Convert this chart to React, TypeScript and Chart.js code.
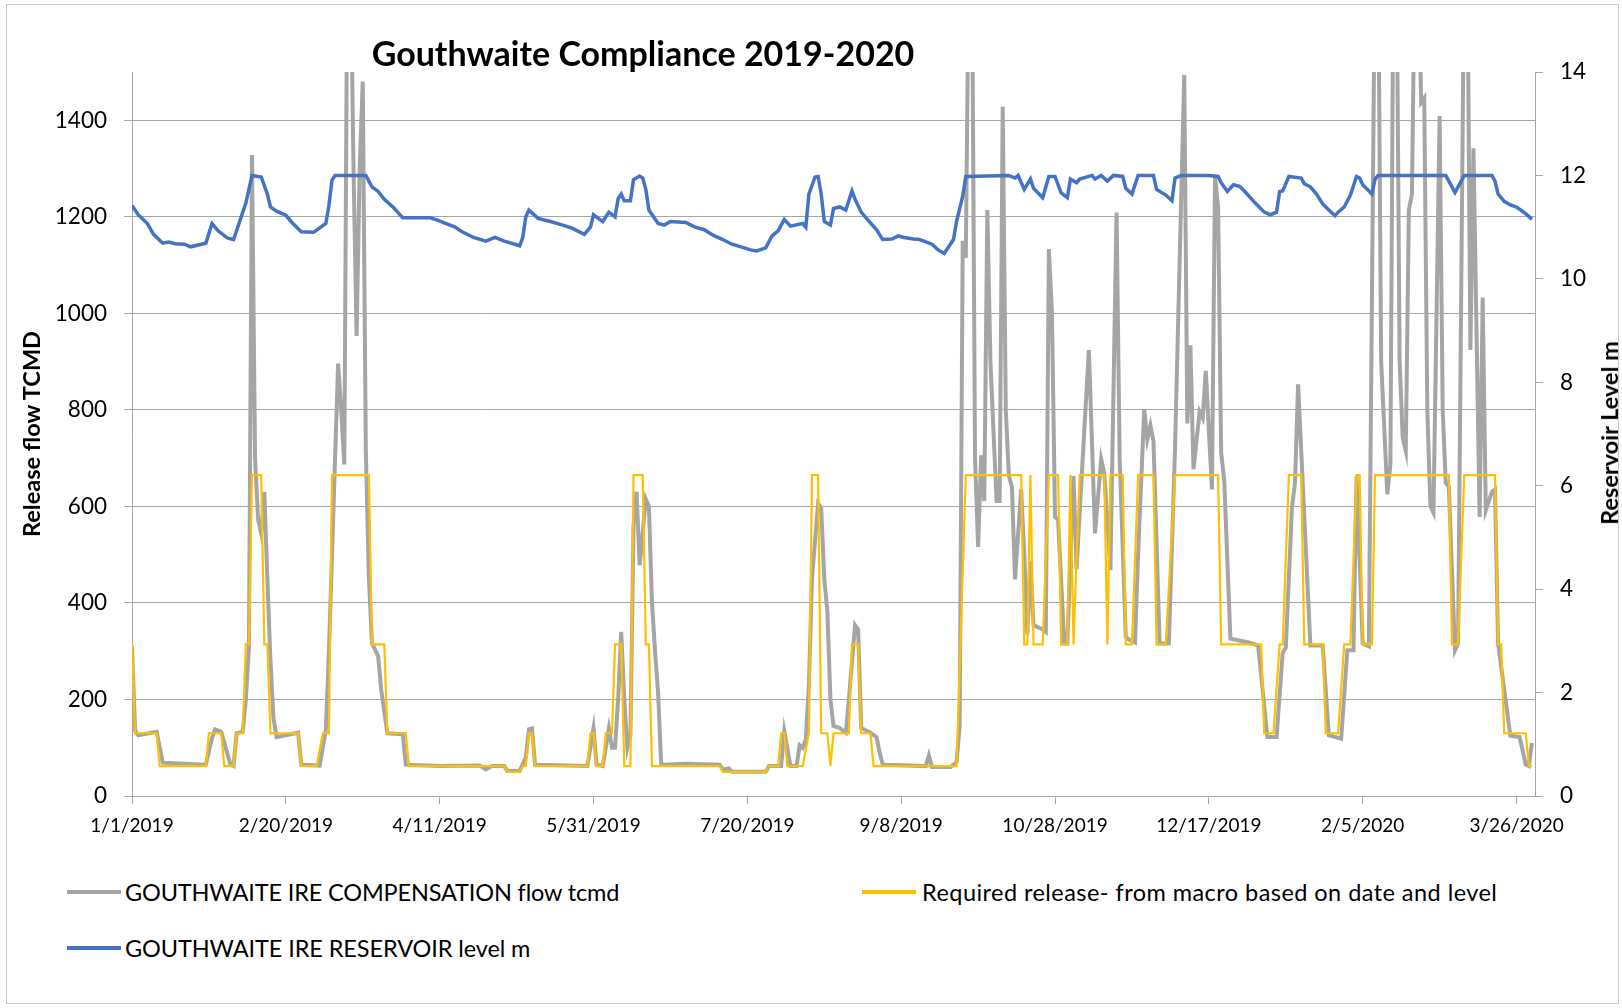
import React, { useEffect, useRef } from "react";
import { Chart, registerables } from "chart.js";

Chart.register(...registerables);

// Day offsets from 1/1/2019 paired with values (daily series, read at vertices)
const flowSeries: [number, number][] = [
  [0, 310], [1, 135], [2, 126], [8, 133], [10, 69], [24, 65], [26, 120], [27, 138], [29, 133], [30, 110],
  [32, 65], [33, 62], [34, 130], [36, 133], [37, 200], [38, 307], [39, 1328], [40, 700], [41, 573], [42, 544],
  [43, 630], [44, 450], [45, 280], [46, 160], [47, 122], [54, 131], [55, 65], [61, 63], [62, 100], [63, 136],
  [64, 300], [66, 700], [67, 896], [68, 800], [69, 687], [70, 1750], [71, 1750], [72, 1300], [73, 953], [74, 1300],
  [75, 1480], [76, 715], [77, 450], [78, 316], [80, 290], [81, 220], [83, 130], [88, 128], [89, 65], [100, 62],
  [113, 63], [115, 55], [117, 62], [121, 62], [122, 52], [126, 52], [128, 80], [129, 138], [130, 140], [131, 65],
  [148, 62], [150, 140], [151, 65], [153, 62], [155, 140], [156, 100], [157, 100], [158, 200], [159, 340], [160, 200],
  [161, 100], [162, 126], [163, 560], [164, 630], [165, 478], [167, 615], [168, 600], [169, 400], [170, 300], [171, 212],
  [172, 65], [180, 67], [191, 65], [192, 55], [194, 57], [195, 50], [206, 50], [207, 62], [211, 62], [212, 134],
  [214, 62], [216, 62], [217, 105], [218, 100], [219, 117], [220, 231], [221, 450], [223, 606], [224, 597], [225, 450],
  [226, 383], [227, 200], [228, 145], [230, 141], [232, 131], [233, 200], [235, 354], [236, 345], [237, 141], [240, 131],
  [242, 122], [243, 90], [244, 65], [258, 62], [259, 84], [260, 60], [266, 60], [268, 70], [269, 145], [270, 1150],
  [271, 1115], [272, 1750], [273, 1750], [274, 700], [275, 516], [276, 706], [277, 611], [278, 1214], [279, 900], [281, 611],
  [282, 611], [283, 1428], [284, 800], [285, 663], [286, 640], [287, 449], [289, 635], [290, 500], [291, 335], [292, 487],
  [293, 354], [296, 345], [297, 340], [298, 1133], [299, 1000], [300, 578], [301, 573], [303, 316], [304, 316], [306, 663],
  [307, 470], [309, 700], [311, 924], [313, 544], [315, 698], [316, 668], [318, 468], [320, 1209], [321, 700], [323, 330],
  [324, 324], [326, 318], [327, 500], [329, 801], [330, 739], [331, 768], [332, 735], [334, 316], [337, 316], [339, 720],
  [342, 1494], [343, 772], [344, 934], [345, 677], [347, 796], [348, 783], [349, 881], [351, 635], [352, 1285], [353, 1219],
  [354, 711], [355, 654], [357, 326], [363, 318], [366, 312], [367, 250], [369, 122], [372, 122], [374, 297], [375, 307],
  [377, 597], [378, 649], [379, 853], [383, 312], [387, 312], [389, 126], [393, 119], [395, 302], [397, 302], [398, 663],
  [400, 316], [402, 310], [404, 1750], [405, 1750], [406, 900], [407, 763], [408, 625], [409, 687], [410, 1750], [411, 1750],
  [412, 900], [413, 743], [414, 715], [415, 1214], [416, 1247], [417, 1750], [418, 1750], [419, 1437], [420, 1446], [421, 800],
  [422, 601], [423, 587], [425, 1409], [426, 800], [427, 649], [428, 640], [430, 302], [431, 316], [433, 1750], [434, 1750],
  [435, 924], [436, 1342], [438, 578], [439, 1033], [440, 592], [442, 630], [443, 635], [444, 316], [446, 220], [448, 125],
  [451, 122], [453, 65], [454, 62], [455, 110],
];

const requiredSeries: [number, number][] = [
  [0, 314], [1, 130], [8, 130], [9, 62], [24, 62], [25, 130], [29, 130], [30, 62], [33, 62], [34, 130],
  [36, 130], [37, 314], [38, 314], [39, 665], [42, 665], [43, 314], [44, 314], [45, 130], [54, 130], [55, 62],
  [60, 62], [62, 130], [64, 130], [65, 665], [77, 665], [78, 314], [82, 314], [83, 130], [89, 130], [90, 62],
  [121, 62], [122, 50], [126, 50], [127, 62], [128, 62], [129, 130], [130, 130], [131, 62], [148, 62], [149, 130],
  [150, 130], [151, 62], [153, 62], [154, 130], [156, 130], [157, 314], [159, 314], [160, 62], [162, 62], [163, 665],
  [166, 665], [167, 314], [168, 314], [169, 62], [191, 62], [192, 50], [206, 50], [207, 62], [210, 62], [211, 130],
  [212, 130], [213, 62], [218, 62], [220, 130], [221, 665], [223, 665], [224, 130], [226, 130], [227, 62], [228, 130],
  [233, 130], [234, 314], [236, 314], [237, 130], [240, 130], [241, 62], [268, 62], [271, 665], [289, 665], [290, 314],
  [291, 314], [292, 665], [293, 314], [296, 314], [298, 665], [301, 665], [302, 314], [304, 314], [305, 665], [306, 314],
  [308, 665], [316, 665], [317, 314], [318, 665], [322, 665], [323, 314], [325, 314], [327, 665], [332, 665], [333, 314],
  [336, 314], [339, 665], [353, 665], [354, 314], [367, 314], [368, 130], [371, 130], [373, 314], [374, 314], [376, 665],
  [380, 665], [381, 314], [387, 314], [388, 130], [392, 130], [394, 314], [396, 314], [398, 665], [399, 665], [400, 314],
  [403, 314], [404, 665], [428, 665], [429, 314], [431, 314], [433, 665], [443, 665], [444, 314], [445, 314], [446, 130],
  [453, 130], [454, 62], [455, 62],
];

const levelSeries: [number, number][] = [
  [0, 11.42], [2, 11.24], [5, 11.07], [7, 10.86], [10, 10.69], [12, 10.71], [14, 10.68], [17, 10.67], [19, 10.62], [24, 10.69],
  [26, 11.07], [28, 10.93], [31, 10.79], [33, 10.76], [34, 10.93], [36, 11.29], [37, 11.46], [38, 11.73], [39, 12.0], [42, 11.97],
  [44, 11.64], [45, 11.39], [47, 11.31], [50, 11.23], [52, 11.09], [55, 10.91], [59, 10.9], [63, 11.07], [64, 11.42], [65, 11.91],
  [66, 12.0], [76, 12.0], [77, 11.89], [78, 11.78], [80, 11.69], [82, 11.54], [85, 11.38], [88, 11.18], [97, 11.18], [99, 11.14],
  [105, 11.0], [107, 10.92], [111, 10.8], [115, 10.73], [118, 10.8], [121, 10.73], [126, 10.64], [127, 10.8], [128, 11.2], [129, 11.33],
  [132, 11.17], [136, 11.11], [140, 11.04], [143, 10.98], [147, 10.86], [149, 11.0], [150, 11.24], [152, 11.15], [153, 11.11], [155, 11.29],
  [157, 11.2], [158, 11.55], [159, 11.64], [160, 11.51], [162, 11.51], [163, 11.92], [165, 11.99], [166, 11.95], [167, 11.73], [168, 11.33],
  [171, 11.07], [173, 11.04], [175, 11.11], [180, 11.09], [183, 11.0], [186, 10.95], [189, 10.84], [192, 10.76], [195, 10.67], [199, 10.6],
  [201, 10.56], [203, 10.54], [206, 10.6], [208, 10.83], [210, 10.93], [212, 11.15], [214, 11.02], [218, 11.07], [219, 11.0], [220, 11.64],
  [222, 11.97], [223, 11.98], [224, 11.64], [225, 11.11], [227, 11.04], [228, 11.36], [230, 11.39], [232, 11.33], [234, 11.7], [235, 11.54],
  [237, 11.29], [239, 11.15], [242, 10.95], [244, 10.76], [247, 10.77], [249, 10.83], [251, 10.8], [254, 10.77], [256, 10.76], [260, 10.67],
  [262, 10.56], [264, 10.49], [267, 10.76], [268, 11.11], [270, 11.6], [271, 11.98], [285, 12.0], [287, 11.95], [288, 12.0], [290, 11.73],
  [292, 11.93], [293, 11.75], [296, 11.57], [298, 11.98], [300, 11.98], [302, 11.66], [304, 11.57], [305, 11.93], [307, 11.86], [308, 11.93],
  [312, 12.0], [313, 11.93], [315, 12.0], [317, 11.89], [319, 12.0], [322, 11.98], [323, 11.75], [325, 11.64], [327, 12.0], [332, 12.0],
  [333, 11.73], [336, 11.62], [338, 11.51], [339, 11.95], [341, 12.0], [350, 12.0], [353, 11.98], [354, 11.86], [356, 11.69], [358, 11.82],
  [360, 11.79], [362, 11.67], [365, 11.47], [368, 11.29], [370, 11.24], [372, 11.29], [373, 11.69], [374, 11.7], [376, 11.98], [380, 11.95],
  [381, 11.84], [383, 11.78], [385, 11.64], [387, 11.45], [389, 11.33], [391, 11.22], [392, 11.29], [394, 11.39], [396, 11.62], [398, 11.98],
  [399, 11.95], [400, 11.82], [403, 11.64], [404, 11.93], [405, 12.0], [427, 12.0], [428, 11.89], [430, 11.67], [431, 11.78], [433, 12.0],
  [442, 12.0], [443, 11.89], [444, 11.64], [446, 11.5], [448, 11.43], [450, 11.39], [453, 11.26], [455, 11.15],
];

const xTickLabels = [
  "1/1/2019", "2/20/2019", "4/11/2019", "5/31/2019", "7/20/2019",
  "9/8/2019", "10/28/2019", "12/17/2019", "2/5/2020", "3/26/2020",
];
const xTickStep = 50;

const seriesLabels = [
  "GOUTHWAITE IRE COMPENSATION flow tcmd",
  "Required release- from macro based on date and level",
  "GOUTHWAITE IRE RESERVOIR level m",
];
const seriesColors = ["#A5A5A5", "#FFC000", "#4472C4"];

const FONT = "Lato, 'Open Sans', sans-serif";
const GRID = "#A6A6A6";

export default function App() {
  const canvasRef = useRef<HTMLCanvasElement | null>(null);

  useEffect(() => {
    if (!canvasRef.current) return;
    const toXY = (s: [number, number][]) => s.map(([x, y]) => ({ x, y }));
    const chart = new Chart(canvasRef.current, {
      type: "line",
      data: {
        datasets: [
          {
            label: seriesLabels[0],
            data: toXY(flowSeries),
            borderColor: seriesColors[0],
            backgroundColor: seriesColors[0],
            borderWidth: 4,
            pointRadius: 0,
            tension: 0,
            yAxisID: "y",
            order: 3,
          },
          {
            label: seriesLabels[1],
            data: toXY(requiredSeries),
            borderColor: seriesColors[1],
            backgroundColor: seriesColors[1],
            borderWidth: 2.2,
            pointRadius: 0,
            tension: 0,
            yAxisID: "y",
            order: 2,
          },
          {
            label: seriesLabels[2],
            data: toXY(levelSeries),
            borderColor: seriesColors[2],
            backgroundColor: seriesColors[2],
            borderWidth: 3.5,
            pointRadius: 0,
            tension: 0,
            yAxisID: "y1",
            order: 1,
          },
        ],
      },
      options: {
        animation: false,
        responsive: false,
        events: [],
        layout: { padding: { top: 72, left: 0, right: 0, bottom: 0 } },
        plugins: {
          legend: { display: false },
          title: { display: false },
          tooltip: { enabled: false },
        },
        scales: {
          x: {
            type: "linear",
            position: "bottom",
            min: 0,
            max: 456,
            grid: { drawOnChartArea: false, drawTicks: true, tickLength: 8, color: GRID },
            border: { color: GRID, width: 1 },
            ticks: {
              stepSize: xTickStep,
              includeBounds: false,
              autoSkip: false,
              maxRotation: 0,
              padding: 10,
              color: "#000",
              font: { family: FONT, size: 19 },
              callback: (v: any) => xTickLabels[Math.round(Number(v) / xTickStep)] ?? "",
            },
            afterFit: (s: any) => {
              s.height = 64;
            },
          },
          y: {
            type: "linear",
            position: "left",
            min: 0,
            max: 1500,
            grid: { color: GRID, tickLength: 8 },
            border: { color: GRID, width: 1 },
            ticks: {
              stepSize: 200,
              includeBounds: false,
              padding: 17,
              color: "#000",
              font: { family: FONT, size: 22.5 },
              callback: (v: any) => String(v),
            },
            afterFit: (s: any) => {
              s.width = 132;
            },
          },
          y1: {
            type: "linear",
            position: "right",
            min: 0,
            max: 14,
            grid: { drawOnChartArea: false, color: GRID, tickLength: 8 },
            border: { color: GRID, width: 1 },
            ticks: {
              stepSize: 2,
              includeBounds: false,
              padding: 17,
              color: "#000",
              font: { family: FONT, size: 22.5 },
              callback: (v: any) => String(v),
            },
            afterFit: (s: any) => {
              s.width = 87;
            },
          },
        },
      },
    } as any);
    return () => chart.destroy();
  }, []);

  const legendText: React.CSSProperties = {
    position: "absolute",
    transform: "translateY(-50%)",
    fontFamily: FONT,
    fontSize: 23.5,
    color: "#000",
    whiteSpace: "nowrap",
  };
  const swatch = (left: number, top: number, color: string): React.CSSProperties => ({
    position: "absolute",
    left,
    top: top - 2,
    width: 54,
    height: 4,
    background: color,
  });

  return (
    <div
      style={{
        position: "absolute",
        left: 0,
        top: 0,
        width: 1622,
        height: 1008,
        background: "#fff",
        overflow: "hidden",
        fontFamily: FONT,
      }}
    >
      <div
        style={{
          position: "absolute",
          left: 6,
          top: 4,
          width: 1613,
          height: 1000,
          border: "1px solid #C8C8C8",
          boxSizing: "border-box",
        }}
      />
      <canvas
        ref={canvasRef}
        width={1622}
        height={860}
        style={{ position: "absolute", left: 0, top: 0, width: 1622, height: 860 }}
      />
      <div
        style={{
          position: "absolute",
          left: 643,
          top: 52,
          transform: "translate(-50%, -50%)",
          fontFamily: FONT,
          fontWeight: 700,
          fontSize: 34,
          whiteSpace: "nowrap",
          color: "#000",
        }}
      >
        Gouthwaite Compliance 2019-2020
      </div>
      <div
        style={{
          position: "absolute",
          left: 31,
          top: 434,
          transform: "translate(-50%, -50%) rotate(-90deg)",
          fontFamily: FONT,
          fontWeight: 700,
          fontSize: 23.5,
          whiteSpace: "nowrap",
          color: "#000",
        }}
      >
        Release flow TCMD
      </div>
      <div
        style={{
          position: "absolute",
          left: 1609,
          top: 433,
          transform: "translate(-50%, -50%) rotate(-90deg)",
          fontFamily: FONT,
          fontWeight: 700,
          fontSize: 23.5,
          whiteSpace: "nowrap",
          color: "#000",
        }}
      >
        Reservoir Level m
      </div>

      <div style={swatch(67, 892, seriesColors[0])} />
      <div style={{ ...legendText, left: 125, top: 892, letterSpacing: -0.15 }}>{seriesLabels[0]}</div>
      <div style={swatch(862, 892, seriesColors[1])} />
      <div style={{ ...legendText, left: 922, top: 892, letterSpacing: 0.45 }}>{seriesLabels[1]}</div>
      <div style={swatch(67, 948, seriesColors[2])} />
      <div style={{ ...legendText, left: 125, top: 948, letterSpacing: -0.1 }}>{seriesLabels[2]}</div>
    </div>
  );
}
